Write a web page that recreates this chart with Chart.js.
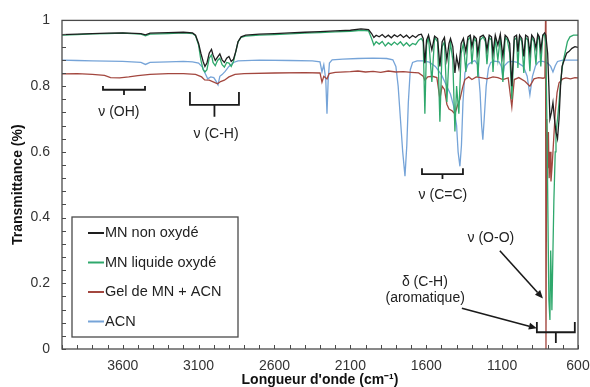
<!DOCTYPE html>
<html>
<head>
<meta charset="utf-8">
<script src="https://cdn.jsdelivr.net/npm/chart.js@4.4.1/dist/chart.umd.min.js"></script>
<style>
  html, body { margin: 0; padding: 0; background: #fff; }
  canvas { display: block; }
</style>
</head>
<body>
<canvas id="spectre" width="590" height="387"></canvas>
<script>
/** SPECTRES IR - TRANSMITTANCE **/

// graduations de l'axe des nombres d'onde (cm-1)
var xTicks = [600, 1100, 1600, 2100, 2600, 3100, 3600];

var seriesNames = ['MN non oxydé', 'MN liquide oxydé', 'Gel de MN + ACN', 'ACN'];
var seriesColors = ['#1e1e1e', '#2fa86c', '#a3473f', '#76a4d8'];

// MN non oxydé
var wnMnNonOx = [4000,3900,3800,3700,3600,3480,3450,3420,3300,3200,
    3140,3120,3100,3085,3070,3058,3045,3030,3015,3005,
    2990,2975,2960,2945,2930,2915,2900,2885,2870,2855,
    2840,2820,2790,2700,2600,2500,2400,2300,2200,2100,
    2030,1980,1960,1945,1930,1910,1890,1870,1850,1830,
    1810,1790,1770,1750,1730,1710,1690,1670,1650,1632,
    1620,1609,1598,1585,1563,1545,1525,1510,1495,1480,
    1464,1450,1440,1425,1411,1400,1385,1370,1355,1339,
    1325,1310,1299,1285,1270,1260,1245,1225,1210,1200,
    1185,1170,1160,1145,1128,1112,1095,1080,1065,1050,
    1036,1020,1005,996,985,970,957,945,930,917,
    905,890,877,865,855,845,832,820,812,800,
    792,785,775,765,755,745,735,725,715,705,
    690,675,660,640,620,600];
var tMnNonOx = [.957,.958,.960,.961,.962,.960,.956,.961,.963,.964,
    .962,.955,.930,.900,.875,.860,.870,.900,.912,.895,
    .878,.888,.898,.880,.872,.885,.890,.875,.882,.905,
    .935,.950,.955,.958,.960,.962,.964,.966,.968,.970,
    .974,.972,.960,.948,.955,.950,.957,.948,.955,.947,
    .956,.950,.957,.948,.955,.946,.954,.948,.956,.958,
    .945,.870,.940,.955,.910,.952,.945,.860,.935,.948,
    .880,.930,.945,.920,.840,.890,.855,.930,.945,.905,
    .950,.955,.920,.952,.945,.900,.950,.955,.945,.910,
    .955,.950,.900,.955,.925,.958,.890,.955,.948,.930,
    .800,.950,.955,.905,.955,.945,.890,.955,.950,.900,
    .955,.945,.915,.958,.950,.910,.955,.962,.955,.900,
    .800,.700,.720,.750,.700,.660,.640,.700,.800,.860,
    .880,.900,.905,.915,.920,.918];

// MN liquide oxydé
var wnMnLiqOx = [4000,3900,3800,3700,3600,3480,3450,3420,3300,3200,
    3140,3120,3100,3085,3070,3058,3045,3030,3015,3005,
    2990,2975,2960,2945,2930,2915,2900,2885,2870,2855,
    2840,2820,2790,2700,2600,2500,2400,2300,2200,2100,
    2030,1980,1960,1945,1930,1910,1890,1870,1850,1830,
    1810,1790,1770,1750,1730,1710,1690,1670,1650,1632,
    1620,1609,1598,1585,1563,1545,1525,1510,1495,1480,
    1464,1450,1440,1425,1411,1400,1385,1370,1355,1339,
    1325,1310,1299,1285,1270,1260,1245,1225,1210,1200,
    1185,1170,1160,1145,1128,1112,1095,1080,1065,1050,
    1036,1020,1005,996,985,970,957,945,930,917,
    905,890,877,865,855,845,832,820,
    812,805,798,792,785,780,775,772,765,759,
    750,745,735,725,713,700,686,670,653,630,600];
var tMnLiqOx = [.955,.957,.959,.960,.961,.958,.953,.958,.960,.962,
    .960,.953,.925,.880,.850,.843,.850,.885,.895,.872,
    .862,.878,.885,.865,.858,.872,.870,.860,.875,.905,
    .935,.948,.952,.955,.957,.959,.961,.963,.965,.967,
    .970,.968,.945,.925,.935,.928,.936,.922,.932,.925,
    .934,.926,.935,.923,.932,.922,.930,.926,.940,.945,
    .935,.716,.925,.950,.813,.948,.935,.692,.920,.935,
    .752,.890,.930,.880,.662,.800,.716,.900,.930,.843,
    .940,.950,.867,.945,.935,.828,.940,.950,.935,.867,
    .948,.940,.843,.948,.879,.952,.813,.948,.940,.900,
    .760,.940,.948,.855,.950,.935,.840,.948,.940,.845,
    .950,.935,.865,.955,.940,.860,.955,.955,
    .930,.700,.400,.150,.088,.300,.200,.118,.300,.450,
    .600,.660,.700,.750,.820,.870,.900,.935,.950,.955,.955];

// Gel de MN + ACN
var wnGel = [4000,3900,3800,3720,3680,3620,3560,3500,3420,3300,
    3200,3120,3080,3060,3030,3000,2975,2955,2930,2900,
    2860,2800,2600,2400,2300,2287,2275,2254,2240,2200,
    2100,2050,2000,1950,1900,1850,1800,1750,1700,1650,
    1620,1609,1590,1560,1530,1510,1495,1480,1464,1450,
    1430,1411,1395,1378,1358,1345,1320,1299,1270,1240,
    1200,1160,1128,1095,1060,1036,1020,990,950,917,
    890,860,830,818,814,811,806,800,795,790,
    784,778,770,760,750,738,725,700,680,650,
    620,600];
var tGel = [.837,.838,.836,.833,.826,.825,.828,.832,.836,.838,
    .838,.836,.828,.819,.818,.812,.807,.814,.818,.828,
    .836,.838,.840,.841,.840,.812,.830,.822,.838,.842,
    .844,.846,.843,.845,.842,.846,.843,.844,.842,.840,
    .830,.818,.828,.830,.826,.762,.800,.790,.745,.730,
    .725,.715,.740,.760,.800,.820,.828,.820,.828,.826,
    .822,.828,.826,.820,.825,.737,.820,.826,.815,.800,
    .822,.826,.824,.826,1.0,0.0,.700,.550,.660,.520,
    .600,.510,.560,.640,.720,.780,.810,.822,.825,.822,
    .826,.825];

// ACN
var wnAcn = [4000,3900,3800,3700,3600,3480,3450,3420,3300,3200,
    3140,3100,3075,3058,3040,3020,3000,2985,2972,2960,
    2945,2925,2900,2870,2840,2700,2500,2350,2300,2287,
    2275,2262,2254,2246,2238,2220,2150,2050,1950,1860,
    1820,1800,1785,1770,1755,1740,1728,1718,1705,1690,
    1660,1620,1580,1540,1500,1470,1440,1420,1400,1390,
    1378,1368,1358,1345,1325,1300,1280,1260,1245,1235,
    1227,1218,1205,1190,1175,1150,1120,1105,1095,1085,
    1060,1030,1000,960,935,917,900,880,860,840,
    820,800,780,765,750,735,700,650,600];
var tAcn = [.879,.878,.877,.876,.875,.872,.866,.872,.874,.875,
    .874,.870,.858,.840,.822,.828,.826,.815,.804,.830,
    .835,.845,.860,.872,.877,.879,.878,.877,.874,.843,
    .865,.820,.716,.820,.870,.880,.882,.884,.885,.884,
    .880,.860,.800,.700,.600,.526,.620,.750,.850,.872,
    .877,.877,.873,.860,.835,.805,.775,.740,.680,.600,
    .556,.620,.750,.840,.866,.873,.878,.865,.780,.680,
    .637,.700,.800,.855,.872,.876,.874,.860,.828,.862,
    .874,.875,.872,.860,.830,.773,.830,.862,.874,.876,
    .874,.870,.860,.843,.862,.875,.879,.879,.879];

// attributions des bandes
var bandLabels = [
    { text: 'ν (OH)', x: 3625, y: 0.722 },
    { text: 'ν (C-H)', x: 2985, y: 0.653 },
    { text: 'ν (C=C)', x: 1490, y: 0.468 },
    { text: 'ν (O-O)', x: 1174, y: 0.338 },
    { text: 'δ (C-H)', x: 1609, y: 0.202 },
    { text: '(aromatique)', x: 1607, y: 0.154 }
];
var bandBrackets = [
    { from: 3730, to: 3453, top: 0.800, y: 0.789, tip: 0.773 },
    { from: 3157, to: 2834, top: 0.782, y: 0.743, tip: 0.707 },
    { from: 1628, to: 1358, top: 0.550, y: 0.532, tip: 0.517 },
    { from: 871, to: 621, top: 0.082, y: 0.051, tip: 0.018 }
];
var bandArrows = [
    { from: [1115, 0.299], to: [831, 0.154] },
    { from: [1365, 0.124], to: [871, 0.063] }
];

var FONT = '"Liberation Sans", Arial, sans-serif';
Chart.defaults.font.family = FONT;

function points(wn, t) {
    return wn.map(function (w, i) { return { x: w, y: t[i] }; });
}

var seriesData = [
    points(wnMnNonOx, tMnNonOx),
    points(wnMnLiqOx, tMnLiqOx),
    points(wnGel, tGel),
    points(wnAcn, tAcn)
];

// cadre + graduations intérieures
var frameTicks = {
    id: 'frameTicks',
    afterDatasetsDraw: function (chart) {
        var ctx = chart.ctx, a = chart.chartArea;
        var xs = chart.scales.x, ys = chart.scales.y;
        ctx.save();
        ctx.strokeStyle = '#4a4a4a';
        ctx.lineWidth = 1.3;
        ctx.strokeRect(a.left, a.top, a.right - a.left, a.bottom - a.top);
        ctx.lineWidth = 1;
        ctx.beginPath();
        for (var w = 600; w <= 4000; w += 100) {
            var px = Math.round(xs.getPixelForValue(w)) + 0.5;
            ctx.moveTo(px, a.bottom);
            ctx.lineTo(px, a.bottom - 4);
        }
        for (var k = 0; k <= 25; k++) {
            var py = Math.round(ys.getPixelForValue(k * 0.04)) + 0.5;
            ctx.moveTo(a.left, py);
            ctx.lineTo(a.left + 4, py);
        }
        ctx.stroke();
        ctx.restore();
    }
};

// annotations : accolades, flèches, textes
var bandNotes = {
    id: 'bandNotes',
    afterDatasetsDraw: function (chart) {
        var ctx = chart.ctx;
        var xs = chart.scales.x, ys = chart.scales.y;
        var X = function (v) { return xs.getPixelForValue(v); };
        var Y = function (v) { return ys.getPixelForValue(v); };
        ctx.save();
        ctx.strokeStyle = '#1a1a1a';
        ctx.fillStyle = '#1a1a1a';
        ctx.lineWidth = 1.8;
        bandBrackets.forEach(function (b) {
            var x1 = X(b.from), x2 = X(b.to), xc = (x1 + x2) / 2;
            ctx.beginPath();
            ctx.moveTo(x1, Y(b.top));
            ctx.lineTo(x1, Y(b.y));
            ctx.lineTo(x2, Y(b.y));
            ctx.lineTo(x2, Y(b.top));
            ctx.moveTo(xc, Y(b.y));
            ctx.lineTo(xc, Y(b.tip));
            ctx.stroke();
        });
        ctx.lineWidth = 1.6;
        bandArrows.forEach(function (ar) {
            var x0 = X(ar.from[0]), y0 = Y(ar.from[1]);
            var x1 = X(ar.to[0]), y1 = Y(ar.to[1]);
            var ang = Math.atan2(y1 - y0, x1 - x0);
            var hl = 8, hw = 3.5;
            var bx = x1 - hl * Math.cos(ang), by = y1 - hl * Math.sin(ang);
            ctx.beginPath();
            ctx.moveTo(x0, y0);
            ctx.lineTo(bx, by);
            ctx.stroke();
            ctx.beginPath();
            ctx.moveTo(x1, y1);
            ctx.lineTo(bx + hw * Math.sin(ang), by - hw * Math.cos(ang));
            ctx.lineTo(bx - hw * Math.sin(ang), by + hw * Math.cos(ang));
            ctx.closePath();
            ctx.fill();
        });
        ctx.fillStyle = '#222';
        ctx.font = '14px ' + FONT;
        ctx.textAlign = 'center';
        ctx.textBaseline = 'middle';
        bandLabels.forEach(function (l) {
            ctx.fillText(l.text, X(l.x), Y(l.y));
        });
        ctx.restore();
    }
};

// légende encadrée en bas à gauche du tracé
var boxLegend = {
    id: 'boxLegend',
    afterDraw: function (chart) {
        var ctx = chart.ctx, a = chart.chartArea;
        var left = a.left + 10, top = a.bottom - 132, w = 166, h = 120;
        ctx.save();
        ctx.fillStyle = '#fff';
        ctx.fillRect(left, top, w, h);
        ctx.strokeStyle = '#4a4a4a';
        ctx.lineWidth = 1.3;
        ctx.strokeRect(left, top, w, h);
        ctx.font = '14.5px ' + FONT;
        ctx.textBaseline = 'middle';
        chart.data.datasets.forEach(function (ds, i) {
            var y = top + 16 + i * 29.5;
            ctx.strokeStyle = ds.borderColor;
            ctx.lineWidth = 2;
            ctx.beginPath();
            ctx.moveTo(left + 16, y);
            ctx.lineTo(left + 32, y);
            ctx.stroke();
            ctx.fillStyle = '#222';
            ctx.fillText(ds.label, left + 33, y);
        });
        ctx.restore();
    }
};

var spectre = document.getElementById('spectre');

var spectreChart = new Chart(spectre, {
    type: 'line',
    data: {
        datasets: seriesNames.map(function (name, i) {
            return {
                label: name,
                data: seriesData[i],
                borderColor: seriesColors[i],
                backgroundColor: seriesColors[i],
                borderWidth: 1.3,
                pointRadius: 0,
                tension: 0,
                fill: false
            };
        })
    },
    options: {
        responsive: false,
        animation: false,
        devicePixelRatio: 1,
        layout: { padding: { top: 17, right: 12, left: 0, bottom: 0 } },
        plugins: {
            legend: { display: false },
            tooltip: { enabled: false }
        },
        scales: {
            x: {
                type: 'linear',
                reverse: true,
                min: 600,
                max: 4000,
                afterBuildTicks: function (scale) {
                    scale.ticks = xTicks.map(function (v) { return { value: v }; });
                },
                afterFit: function (scale) { scale.height = 38; },
                grid: { display: false, drawTicks: false },
                border: { display: false },
                ticks: {
                    color: '#333',
                    font: { size: 14 },
                    padding: 9,
                    maxRotation: 0,
                    autoSkip: false,
                    callback: function (v) { return String(v); }
                },
                title: {
                    display: true,
                    text: 'Longueur d\'onde (cm⁻¹)',
                    color: '#111',
                    font: { size: 14, weight: 'bold', lineHeight: 1 },
                    padding: 0
                }
            },
            y: {
                min: 0,
                max: 1,
                afterFit: function (scale) { scale.width = 62; },
                grid: { display: false, drawTicks: false },
                border: { display: false },
                ticks: {
                    stepSize: 0.2,
                    color: '#333',
                    font: { size: 14 },
                    padding: 12,
                    callback: function (v) { return String(Math.round(v * 10) / 10); }
                },
                title: {
                    display: true,
                    text: 'Transmittance (%)',
                    color: '#111',
                    font: { size: 14, weight: 'bold', lineHeight: 1 },
                    padding: { top: 11, bottom: 0 }
                }
            }
        }
    },
    plugins: [frameTicks, bandNotes, boxLegend]
});
</script>
</body>
</html>
